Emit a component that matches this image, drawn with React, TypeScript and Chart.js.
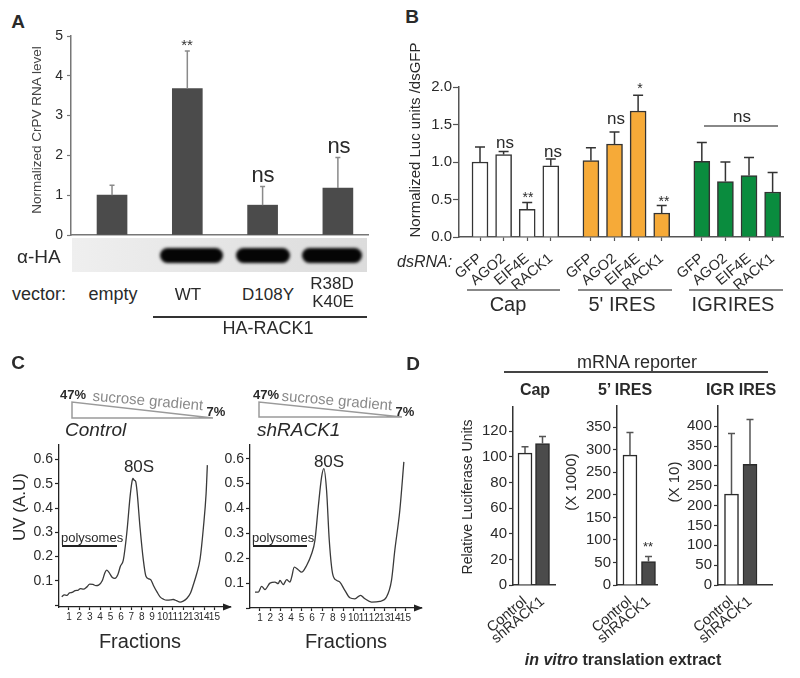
import React, { useEffect, useRef } from 'react';
import { Chart, registerables } from 'chart.js';

Chart.register(...registerables);

const FONT = '"Liberation Sans", Arial, Helvetica, sans-serif';
const INK = '#2a2a2a';

// ---------- Panel A ----------
const aVectors = ['empty', 'WT', 'D108Y', 'R38D K40E'];
const aRnaLevel = [1.0, 3.68, 0.75, 1.18];
const aRnaErrTop = [1.25, 4.62, 1.22, 1.95];
const aYTicks = [0, 1, 2, 3, 4, 5];

// ---------- Panel B ----------
const bReporters = ['Cap', "5' IRES", 'IGR IRES'];
const bDsRNA = ['GFP', 'AGO2', 'EIF4E', 'RACK1'];
const bCapLuc = [1.0, 1.1, 0.37, 0.95];
const bCapErrTop = [1.2, 1.14, 0.46, 1.04];
const bIresLuc = [1.02, 1.24, 1.68, 0.32];
const bIresErrTop = [1.19, 1.4, 1.89, 0.42];
const bIgrLuc = [1.01, 0.74, 0.82, 0.6];
const bIgrErrTop = [1.26, 1.0, 1.06, 0.86];
const bYTicks = [0, 0.5, 1, 1.5, 2];

// ---------- Panel C ----------
const cFractionTicks = [1, 2, 3, 4, 5, 6, 7, 8, 9, 10, 11, 12, 13, 14, 15];
const cUvTicks = [0, 0.1, 0.2, 0.3, 0.4, 0.5, 0.6];
const cControlFraction = [0.3, 0.55, 0.8, 1.05, 1.3, 1.6, 1.9, 2.1, 2.4, 2.7, 3.0, 3.3, 3.6, 3.85, 4.2, 4.45, 4.63, 4.85, 5.15, 5.42, 5.7, 5.95, 6.23, 6.56, 6.88, 7.05, 7.15, 7.28, 7.42, 7.55, 7.84, 8.16, 8.4, 8.7, 8.9, 9.12, 9.5, 9.77, 10.1, 10.41, 10.8, 11.05, 11.35, 11.69, 12.0, 12.34, 12.7, 12.98, 13.3, 13.62, 13.94, 14.2, 14.32];
const cControlUV = [0.034, 0.042, 0.04, 0.05, 0.052, 0.06, 0.062, 0.068, 0.066, 0.074, 0.086, 0.085, 0.08, 0.082, 0.1, 0.132, 0.144, 0.135, 0.115, 0.11, 0.125, 0.16, 0.185, 0.295, 0.446, 0.505, 0.522, 0.515, 0.51, 0.47, 0.32, 0.185, 0.12, 0.108, 0.103, 0.082, 0.052, 0.034, 0.024, 0.02, 0.021, 0.023, 0.018, 0.012, 0.016, 0.027, 0.05, 0.085, 0.13, 0.19, 0.32, 0.46, 0.577];
const cShFraction = [0.52, 0.84, 1.16, 1.48, 1.96, 2.44, 2.76, 2.92, 3.24, 3.57, 3.88, 4.05, 4.3, 4.68, 5.0, 5.49, 5.97, 6.29, 6.61, 6.93, 7.15, 7.41, 7.67, 7.99, 8.37, 8.69, 9.17, 9.65, 10.13, 10.68, 11.1, 11.74, 12.54, 13.18, 13.66, 13.98, 14.46, 14.85];
const cShUV = [0.064, 0.064, 0.087, 0.074, 0.1, 0.104, 0.098, 0.111, 0.094, 0.114, 0.104, 0.124, 0.164, 0.154, 0.144, 0.171, 0.218, 0.272, 0.406, 0.526, 0.56, 0.473, 0.272, 0.138, 0.111, 0.104, 0.071, 0.041, 0.037, 0.051, 0.037, 0.024, 0.027, 0.044, 0.111, 0.232, 0.392, 0.587];

// ---------- Panel D ----------
const dExtracts = ['Control', 'shRACK1'];
const dCapLuc = [103, 110.5];
const dCapErrTop = [108, 116];
const dCapTicks = [0, 20, 40, 60, 80, 100, 120];
const dIresLuc = [288, 52];
const dIresErrTop = [338, 63];
const dIresTicks = [0, 50, 100, 150, 200, 250, 300, 350];
const dIgrLuc = [229, 304];
const dIgrErrTop = [382, 417];
const dIgrTicks = [0, 50, 100, 150, 200, 250, 300, 350, 400];

// ---------- helpers ----------
type Area = { l: number; t: number; r: number; b: number; yw: number; xh: number; pt?: number; pr?: number };

function frame(a: Area) {
  const pt = a.pt ?? 8;
  const pr = a.pr ?? 8;
  return { left: a.l - a.yw, top: a.t - pt, width: a.r - a.l + a.yw + pr, height: a.b - a.t + pt + a.xh, pt, pr };
}

function errorBars(tops: number[][], color: string, width: number, cap: number) {
  return {
    id: 'errorBars',
    afterDatasetsDraw(chart: any) {
      const ctx = chart.ctx;
      const ys = chart.scales.y;
      ctx.save();
      ctx.strokeStyle = color;
      ctx.lineWidth = width;
      tops.forEach((set, di) => {
        const meta = chart.getDatasetMeta(di);
        meta.data.forEach((bar: any, i: number) => {
          const t = set[i];
          if (t == null) return;
          const yt = ys.getPixelForValue(t);
          ctx.beginPath();
          ctx.moveTo(bar.x, bar.y);
          ctx.lineTo(bar.x, yt);
          ctx.moveTo(bar.x - cap / 2, yt);
          ctx.lineTo(bar.x + cap / 2, yt);
          ctx.stroke();
        });
      });
      ctx.restore();
    },
  };
}

const axisArrow = {
  id: 'axisArrow',
  afterDraw(chart: any) {
    const { ctx, chartArea } = chart;
    const x = chartArea.right;
    const y = chartArea.bottom;
    ctx.save();
    ctx.fillStyle = '#222';
    ctx.beginPath();
    ctx.moveTo(x + 2, y);
    ctx.lineTo(x - 7, y - 3.5);
    ctx.lineTo(x - 7, y + 3.5);
    ctx.closePath();
    ctx.fill();
    ctx.restore();
  },
};

function yAxis(min: number, max: number, ticks: number[], fmt: (v: number) => string, size: number, color: string, tickLen = 4, pad = 3, bw = 1.5) {
  return {
    type: 'linear',
    min,
    max,
    afterBuildTicks: (s: any) => {
      s.ticks = ticks.map((v) => ({ value: v }));
    },
    ticks: { font: { family: FONT, size }, color: INK, padding: pad, callback: (v: any) => fmt(Number(v)) },
    grid: { display: true, drawOnChartArea: false, drawTicks: true, tickLength: tickLen, color, tickColor: color, tickWidth: 1.2 },
    border: { display: true, color, width: bw },
  };
}

function xAxis(min: number, max: number, ticks: number[] | null, labels: ((i: number) => string) | null, size: number, color: string, rot: number, tickLen: number, pad = 2, bw = 1.5) {
  return {
    type: 'linear',
    min,
    max,
    offset: false,
    afterBuildTicks: (s: any) => {
      if (ticks) s.ticks = ticks.map((v) => ({ value: v }));
    },
    ticks: {
      display: !!labels,
      autoSkip: false,
      minRotation: rot,
      maxRotation: rot,
      padding: pad,
      font: { family: FONT, size },
      color: INK,
      callback: (_v: any, i: number) => (labels ? labels(i) : ''),
    },
    grid: { display: true, offset: false, drawOnChartArea: false, drawTicks: tickLen > 0, tickLength: tickLen, color, tickColor: color, tickWidth: 1.2 },
    border: { display: true, color, width: bw },
  };
}

function ChartBox({ area, build }: { area: Area; build: () => any }) {
  const ref = useRef<HTMLCanvasElement>(null);
  const f = frame(area);
  useEffect(() => {
    const cfg = build();
    const o = cfg.options;
    o.responsive = false;
    o.maintainAspectRatio = false;
    o.animation = false;
    o.devicePixelRatio = 1;
    o.layout = { padding: { top: f.pt, right: f.pr, left: 0, bottom: 0 } };
    o.plugins = { legend: { display: false }, tooltip: { enabled: false } };
    o.scales.x.afterFit = (s: any) => {
      s.height = area.xh;
      s.paddingLeft = 0;
      s.paddingRight = 0;
      s.paddingTop = 0;
      s.paddingBottom = 0;
    };
    o.scales.y.afterFit = (s: any) => {
      s.width = area.yw;
      s.paddingLeft = 0;
      s.paddingRight = 0;
      s.paddingTop = 0;
      s.paddingBottom = 0;
    };
    const chart = new Chart(ref.current as HTMLCanvasElement, cfg);
    return () => chart.destroy();
  }, []);
  return (
    <canvas
      ref={ref}
      width={f.width}
      height={f.height}
      style={{ position: 'absolute', left: f.left, top: f.top, width: f.width, height: f.height }}
    />
  );
}

function Txt({ x, y, s = 14, a = 'c', b = false, it = false, c = INK, r = 0, ws, children }: any) {
  const tx = a === 'c' ? '-50%' : a === 'r' ? '-100%' : '0%';
  return (
    <div
      style={{
        position: 'absolute',
        left: x,
        top: y,
        transform: `translate(${tx}, -50%) rotate(${r}deg)`,
        fontSize: s,
        fontWeight: b ? 700 : 400,
        fontStyle: it ? 'italic' : 'normal',
        color: c,
        whiteSpace: 'nowrap',
        lineHeight: 1,
        fontFamily: FONT,
        wordSpacing: ws,
      }}
    >
      {children}
    </div>
  );
}

function HLine({ x1, x2, y, c = '#333', w = 1.5 }: any) {
  return <div style={{ position: 'absolute', left: x1, top: y - w / 2, width: x2 - x1, height: w, background: c }} />;
}

// ---------- chart builders ----------
const idx = (arr: number[]) => arr.map((_, i) => i);

function buildA() {
  return {
    type: 'bar',
    data: {
      datasets: [
        {
          data: aRnaLevel.map((v, i) => ({ x: i, y: v })),
          backgroundColor: '#4b4b4b',
          borderWidth: 0,
          barThickness: 30,
          grouped: false,
        },
      ],
    },
    options: {
      scales: {
        x: xAxis(-0.545, 3.4, idx(aVectors), null, 12, '#777', 0, 0),
        y: yAxis(0, 5, aYTicks, (v) => String(v), 14, '#777', 4, 4),
      },
    },
    plugins: [errorBars([aRnaErrTop], '#8a8a8a', 1.5, 5)],
  };
}

const B_GAP = 4.7;
function bPos(g: number) {
  return bDsRNA.map((_, i) => g * B_GAP + i);
}
function buildB() {
  const groups = [bCapLuc, bIresLuc, bIgrLuc];
  const colors = ['#ffffff', '#f6aa38', '#0a8c3e'];
  const allPos = [...bPos(0), ...bPos(1), ...bPos(2)];
  return {
    type: 'bar',
    data: {
      datasets: groups.map((vals, g) => ({
        data: vals.map((v, i) => ({ x: bPos(g)[i], y: v })),
        backgroundColor: colors[g],
        borderColor: '#333',
        borderWidth: 1.5,
        barThickness: 16,
        grouped: false,
      })),
    },
    options: {
      scales: {
        x: xAxis(-0.89, 12.84, allPos, (i) => bDsRNA[i % 4], 14.5, '#555', 40, 4, 9),
        y: yAxis(0, 2, bYTicks, (v) => v.toFixed(1), 15, '#555', 6, 1),
      },
    },
    plugins: [errorBars([bCapErrTop, bIresErrTop, bIgrErrTop], '#333', 1.5, 10)],
  };
}

function buildC(fr: number[], uv: number[], ymin: number, ymax: number) {
  return {
    type: 'line',
    data: {
      datasets: [
        {
          data: fr.map((f, i) => ({ x: f, y: uv[i] })),
          borderColor: '#3a3a3a',
          borderWidth: 1.3,
          pointRadius: 0,
          cubicInterpolationMode: 'monotone',
          fill: false,
        },
      ],
    },
    options: {
      scales: {
        x: xAxis(0.04, 16.5, cFractionTicks, (i) => String(cFractionTicks[i]), 10, '#222', 0, 3, 1, 1.3),
        y: yAxis(ymin, ymax, cUvTicks, (v) => (v === 0 ? '' : v.toFixed(1)), 14, '#222', 4, 2, 1.3),
      },
    },
    plugins: [axisArrow],
  };
}

function buildD(vals: number[], errs: number[], ticks: number[], xmin: number, xmax: number, ymax: number) {
  return {
    type: 'bar',
    data: {
      datasets: [
        {
          data: vals.map((v, i) => ({ x: i, y: v })),
          backgroundColor: ['#ffffff', '#4b4b4b'],
          borderColor: '#2a2a2a',
          borderWidth: 1.5,
          barThickness: 14,
          grouped: false,
        },
      ],
    },
    options: {
      scales: {
        x: xAxis(xmin, xmax, idx(dExtracts), (i) => dExtracts[i], 14.5, '#333', 40, 0, 8),
        y: yAxis(0, ymax, ticks, (v) => String(v), 15, '#333', 4, 2),
      },
    },
    plugins: [errorBars([errs], '#555', 1.5, 7)],
  };
}

export default function App() {
  return (
    <div style={{ position: 'absolute', left: 0, top: 0, width: 800, height: 678, background: '#fff', overflow: 'hidden', fontFamily: FONT }}>
      {/* Panel A */}
      <ChartBox area={{ l: 71, t: 36, r: 368, b: 235, yw: 30, xh: 4 }} build={buildA} />
      {/* Panel B */}
      <ChartBox area={{ l: 459, t: 87, r: 783, b: 237, yw: 40, xh: 55, pr: 14 }} build={buildB} />
      {/* Panel C */}
      <ChartBox area={{ l: 59, t: 445, r: 230, b: 607, yw: 40, xh: 20, pr: 6 }} build={() => buildC(cControlFraction, cControlUV, -0.008, 0.66)} />
      <ChartBox area={{ l: 250, t: 445, r: 421, b: 608, yw: 40, xh: 20, pr: 6 }} build={() => buildC(cShFraction, cShUV, 0, 0.655)} />
      {/* Panel D */}
      <ChartBox area={{ l: 513, t: 407, r: 555, b: 585, yw: 40, xh: 60 }} build={() => buildD(dCapLuc, dCapErrTop, dCapTicks, -0.686, 1.714, 139)} />
      <ChartBox area={{ l: 617, t: 406, r: 657, b: 585, yw: 40, xh: 60 }} build={() => buildD(dIresLuc, dIresErrTop, dIresTicks, -0.7, 1.46, 397)} />
      <ChartBox area={{ l: 718, t: 406, r: 772, b: 585, yw: 40, xh: 60 }} build={() => buildD(dIgrLuc, dIgrErrTop, dIgrTicks, -0.73, 2.19, 451)} />

      {/* ---- Panel A text ---- */}
      <Txt x={18} y={21} s={19} b>A</Txt>
      <Txt x={37} y={130} s={13.5} r={-90} c="#444">Normalized CrPV RNA level</Txt>
      <Txt x={187} y={44} s={15} c="#333">**</Txt>
      <Txt x={263} y={175} s={22}>ns</Txt>
      <Txt x={339} y={146} s={22}>ns</Txt>
      <div style={{ position: 'absolute', left: 72, top: 238, width: 295, height: 34, background: 'linear-gradient(90deg, #efefef, #e4e4e4 55%, #dcdcdc)' }} />
      <div style={{ position: 'absolute', left: 160, top: 248, width: 63, height: 15, background: '#050505', borderRadius: 8, filter: 'blur(1.5px)' }} />
      <div style={{ position: 'absolute', left: 236, top: 248, width: 54, height: 15, background: '#050505', borderRadius: 8, filter: 'blur(1.5px)' }} />
      <div style={{ position: 'absolute', left: 302, top: 248, width: 60, height: 15, background: '#050505', borderRadius: 8, filter: 'blur(1.5px)' }} />
      <Txt x={17} y={256} s={19} a="l">α-HA</Txt>
      <Txt x={12} y={294} s={18} a="l">vector:</Txt>
      <Txt x={113} y={294} s={18}>{aVectors[0]}</Txt>
      <Txt x={188} y={294} s={17}>{aVectors[1]}</Txt>
      <Txt x={268} y={294} s={17}>{aVectors[2]}</Txt>
      <Txt x={332} y={283} s={17}>{aVectors[3].split(' ')[0]}</Txt>
      <Txt x={333} y={301} s={17}>{aVectors[3].split(' ')[1]}</Txt>
      <HLine x1={153} x2={367} y={317} c="#333" w={1.5} />
      <Txt x={268} y={328} s={18}>HA-RACK1</Txt>

      {/* ---- Panel B text ---- */}
      <Txt x={412} y={16} s={19} b>B</Txt>
      <Txt x={414} y={140} s={15} r={-90}>Normalized Luc units /dsGFP</Txt>
      <Txt x={397} y={262} s={16} a="l" it>dsRNA:</Txt>
      <Txt x={505} y={142} s={17}>ns</Txt>
      <Txt x={528} y={197} s={14}>**</Txt>
      <Txt x={553} y={151} s={17}>ns</Txt>
      <Txt x={616} y={118} s={17}>ns</Txt>
      <Txt x={640} y={88} s={14}>*</Txt>
      <Txt x={664} y={201} s={14}>**</Txt>
      <Txt x={742} y={116} s={17}>ns</Txt>
      <HLine x1={704} x2={778} y={126} c="#888" w={1.5} />
      <HLine x1={467} x2={560} y={290} c="#888" w={1.5} />
      <HLine x1={578} x2={672} y={290} c="#888" w={1.5} />
      <HLine x1={689} x2={783} y={290} c="#888" w={1.5} />
      <Txt x={508} y={304} s={20}>{bReporters[0]}</Txt>
      <Txt x={622} y={304} s={20}>{bReporters[1]}</Txt>
      <Txt x={733} y={304} s={20} ws={-5}>{bReporters[2]}</Txt>

      {/* ---- Panel C text ---- */}
      <Txt x={18} y={362} s={19} b>C</Txt>
      <svg width={800} height={678} style={{ position: 'absolute', left: 0, top: 0, pointerEvents: 'none' }}>
        <polygon points="72,402 72,418 213,418" fill="none" stroke="#9a9a9a" strokeWidth={1.5} />
        <polygon points="259,402 259,417 402,417" fill="none" stroke="#9a9a9a" strokeWidth={1.5} />
      </svg>
      <Txt x={73} y={394} s={13} b>47%</Txt>
      <Txt x={148} y={400} s={15} c="#8a8a8a" r={5}>sucrose gradient</Txt>
      <Txt x={216} y={411} s={13} b>7%</Txt>
      <Txt x={266} y={394} s={13} b>47%</Txt>
      <Txt x={337} y={400} s={15} c="#8a8a8a" r={5}>sucrose gradient</Txt>
      <Txt x={405} y={411} s={13} b>7%</Txt>
      <Txt x={65} y={429} s={19} a="l" it>Control</Txt>
      <Txt x={257} y={429} s={19} a="l" it>shRACK1</Txt>
      <Txt x={19} y={507} s={17} r={-90}>UV (A.U)</Txt>
      <Txt x={139} y={466} s={17}>80S</Txt>
      <Txt x={329} y={461} s={17}>80S</Txt>
      <Txt x={61} y={537} s={13} a="l">polysomes</Txt>
      <HLine x1={62} x2={117} y={546} c="#222" w={1.2} />
      <Txt x={252} y={537} s={13} a="l">polysomes</Txt>
      <HLine x1={253} x2={307} y={546} c="#222" w={1.2} />
      <Txt x={140} y={641} s={20}>Fractions</Txt>
      <Txt x={346} y={641} s={20}>Fractions</Txt>

      {/* ---- Panel D text ---- */}
      <Txt x={413} y={363} s={19} b>D</Txt>
      <Txt x={637} y={362} s={18}>mRNA reporter</Txt>
      <HLine x1={504} x2={768} y={372} c="#444" w={1.3} />
      <Txt x={535} y={390} s={16} b>Cap</Txt>
      <Txt x={625} y={390} s={16} b>5’ IRES</Txt>
      <Txt x={741} y={390} s={16} b>IGR IRES</Txt>
      <Txt x={467} y={497} s={14} r={-90}>Relative Luciferase Units</Txt>
      <Txt x={570} y={482} s={15} r={-90}>(X 1000)</Txt>
      <Txt x={673} y={482} s={15} r={-90}>(X 10)</Txt>
      <Txt x={648} y={546} s={13}>**</Txt>
      <Txt x={623} y={660} s={16} b>
        <i>in vitro</i> translation extract
      </Txt>
    </div>
  );
}
